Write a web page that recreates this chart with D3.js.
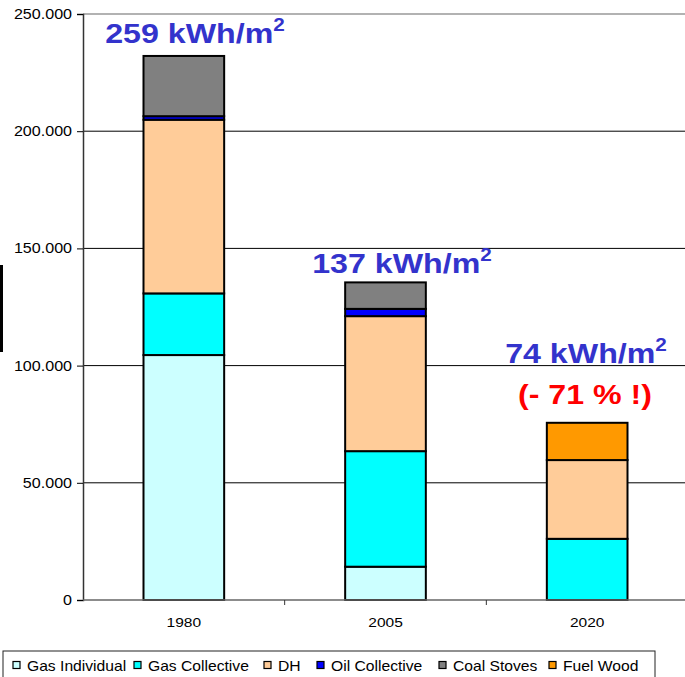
<!DOCTYPE html>
<html>
<head>
<meta charset="utf-8">
<script src="https://cdn.jsdelivr.net/npm/d3@7"></script>
<style>
  body { margin: 0; background: white; }
  svg { font-family: "Liberation Sans", Arial, sans-serif; }
</style>
</head>
<body>
<div id="chart"></div>
<script>
// Datos del gráfico
var years = ["1980", "2005", "2020"];
var series = ["Gas Individual", "Gas Collective", "DH", "Oil Collective", "Coal Stoves", "Fuel Wood"];
var colors = ["#CCFFFF", "#00FFFF", "#FFCC99", "#0000FF", "#808080", "#FF9900"];
var gasIndividual = [104500, 14200, 0];
var gasCollective = [26300, 49300, 26100];
var dh = [74100, 57600, 33600];
var oilCollective = [1500, 3100, 0];
var coalStoves = [25700, 11300, 0];
var fuelWood = [0, 0, 15900];
var yTicks = [0, 50000, 100000, 150000, 200000, 250000];
var labelsKwh = ["259 kWh/m", "137 kWh/m", "74 kWh/m"];

var width = 685, height = 677;
var margin = {top: 14, right: -3, bottom: 77, left: 83};
var w = width - margin.left - margin.right;
var h = height - margin.top - margin.bottom;
var stretch = 1.15; // el texto original está estirado en horizontal

var svg = d3.select("#chart").append("svg")
    .attr("width", width)
    .attr("height", height);

var g = svg.append("g")
    .attr("transform", "translate(" + margin.left + "," + margin.top + ")");

// Escalas
var xScale = d3.scaleBand()
    .domain(years)
    .range([0, w])
    .paddingInner(0.6)
    .paddingOuter(0.3);
var yScale = d3.scaleLinear()
    .domain([0, 250000])
    .range([h, 0]);

// Rejilla
g.selectAll(".grid").data(yTicks.slice(1, -1))
    .enter().append("line")
    .attr("class", "grid")
    .attr("x1", 0).attr("x2", w)
    .attr("y1", d => yScale(d)).attr("y2", d => yScale(d))
    .attr("stroke", "#000").attr("stroke-width", 1);

// borde superior
g.append("line")
    .attr("x1", 0).attr("x2", w)
    .attr("y1", yScale(250000)).attr("y2", yScale(250000))
    .attr("stroke", "#999").attr("stroke-width", 1.5);

// Datos apilados
var table = years.map(function(y, i) {
    return {year: y, "Gas Individual": gasIndividual[i], "Gas Collective": gasCollective[i], "DH": dh[i],
        "Oil Collective": oilCollective[i], "Coal Stoves": coalStoves[i], "Fuel Wood": fuelWood[i]};
});
var stacked = d3.stack().keys(series)(table);

g.selectAll(".serie").data(stacked)
    .enter().append("g")
    .attr("class", "serie")
    .attr("fill", (d, i) => colors[i])
    .selectAll("rect").data(d => d.filter(p => p[1] - p[0] > 0))
    .enter().append("rect")
    .attr("x", d => xScale(d.data.year))
    .attr("width", xScale.bandwidth())
    .attr("y", d => yScale(d[1]))
    .attr("height", d => yScale(d[0]) - yScale(d[1]))
    .attr("stroke", "#000")
    .attr("stroke-width", 2);

// Eje Y
var yAxis = d3.axisLeft(yScale)
    .tickValues(yTicks)
    .tickSize(6)
    .tickFormat(d => d === 0 ? "0" : d3.format(",")(d).replace(/,/g, "."));
var yAxisG = g.append("g").call(yAxis);
yAxisG.select(".domain").attr("stroke", "#333").attr("stroke-width", 1.5);
yAxisG.selectAll(".tick line").attr("stroke", "#000");
yAxisG.selectAll("text")
    .style("font-size", "14px").attr("fill", "#000")
    .attr("x", -9.5)
    .attr("transform", "scale(" + stretch + ",1)");

// Eje X
var xAxisG = g.append("g")
    .attr("transform", "translate(0," + h + ")");
xAxisG.append("line")
    .attr("x1", 0).attr("x2", w)
    .attr("stroke", "#666").attr("stroke-width", 1.5);
var step = xScale.step();
var gap = step - xScale.bandwidth();
xAxisG.selectAll(".tick").data(d3.range(1, years.length))
    .enter().append("line")
    .attr("x1", d => xScale(years[d]) - gap / 2)
    .attr("x2", d => xScale(years[d]) - gap / 2)
    .attr("y1", 0).attr("y2", 5)
    .attr("stroke", "#333");
xAxisG.selectAll(".xlabel").data(years)
    .enter().append("text")
    .attr("transform", d => "translate(" + (xScale(d) + xScale.bandwidth() / 2) + ",27) scale(" + stretch + ",1)")
    .attr("text-anchor", "middle")
    .style("font-size", "13.5px")
    .text(d => d);

// Etiquetas kWh/m2
var labelPos = [{x: 195, y: 43}, {x: 402, y: 273}, {x: 586, y: 363}];
var kwh = svg.selectAll(".kwh").data(labelsKwh)
    .enter().append("text")
    .attr("class", "kwh")
    .attr("transform", (d, i) => "translate(" + labelPos[i].x + "," + labelPos[i].y + ") scale(" + stretch + ",1)")
    .attr("text-anchor", "middle")
    .attr("fill", "#3333CC")
    .style("font-size", "28px")
    .style("font-weight", "bold");
kwh.append("tspan").text(d => d);
kwh.append("tspan").attr("dy", -12).style("font-size", "18px").text("2");

svg.append("text")
    .attr("transform", "translate(585,404) scale(" + stretch + ",1)")
    .attr("text-anchor", "middle")
    .attr("fill", "#FF0000")
    .style("font-size", "28px")
    .style("font-weight", "bold")
    .text("(- 71 % !)");

// Barra negra a la izquierda
svg.append("rect")
    .attr("x", 0).attr("y", 265)
    .attr("width", 3).attr("height", 87)
    .attr("fill", "#000");

// Leyenda
var legend = svg.append("g")
    .attr("transform", "translate(3,651)");
legend.append("rect")
    .attr("width", 652).attr("height", 40)
    .attr("fill", "white").attr("stroke", "#222").attr("stroke-width", 1);
var legendX = [24, 145, 275, 328, 450, 560];
var items = legend.selectAll(".item").data(series)
    .enter().append("g")
    .attr("transform", (d, i) => "translate(" + legendX[i] + ",14)");
items.append("rect")
    .attr("x", -14).attr("y", -3.5).attr("width", 7).attr("height", 7)
    .attr("fill", (d, i) => colors[i]).attr("stroke", "#000").attr("stroke-width", 1.2);
items.append("text")
    .attr("transform", "scale(1.08,1)")
    .attr("y", 5.5)
    .style("font-size", "14.5px")
    .text(d => d);
</script>
</body>
</html>
